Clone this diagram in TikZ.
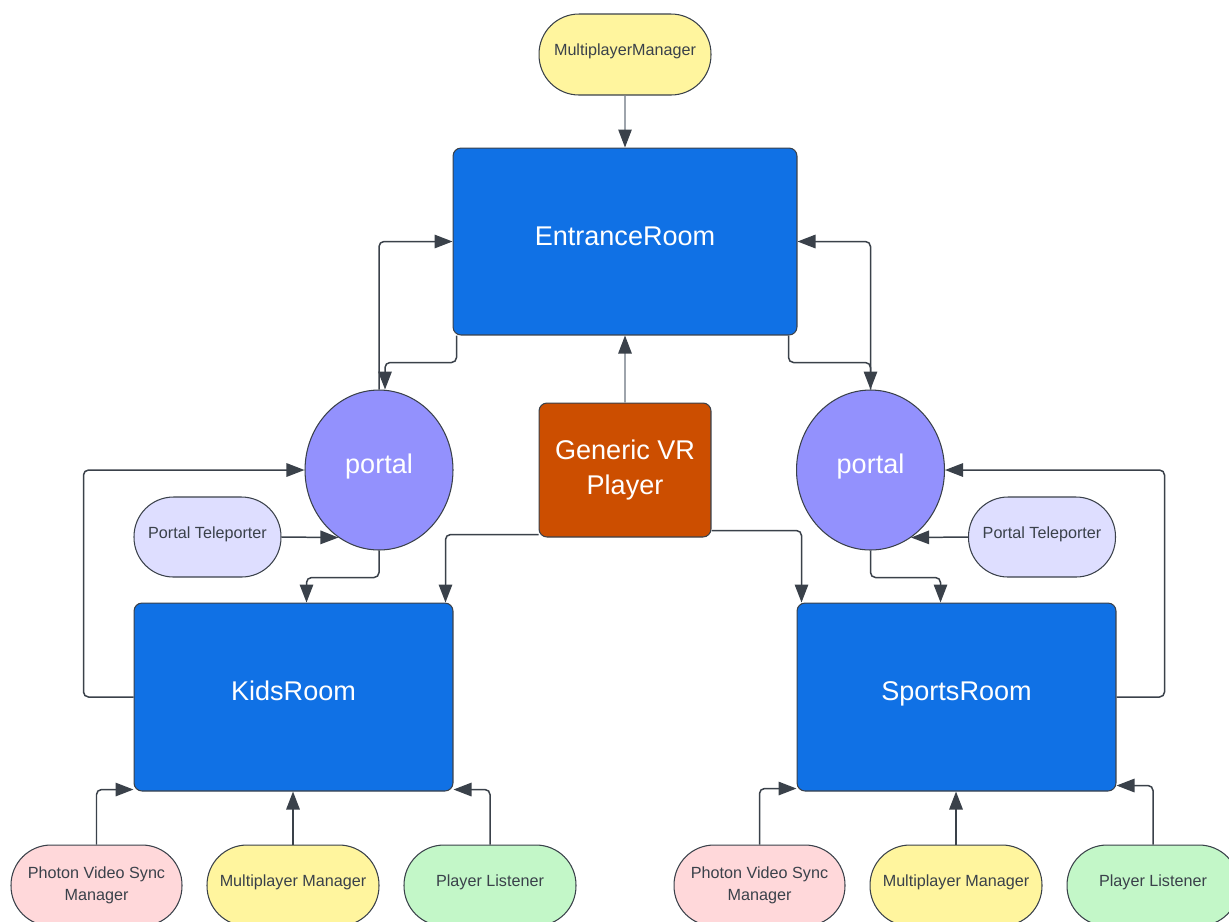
\documentclass[tikz,border=0pt]{standalone}
\usepackage{fontspec}
\setmainfont{Liberation Sans}
\usetikzlibrary{arrows.meta,shapes.geometric,calc}
\definecolor{lineC}{HTML}{3A414A}
\definecolor{lightline}{HTML}{9EA4AC}
\definecolor{roomblue}{HTML}{1071E5}
\definecolor{portalC}{HTML}{9391FD}
\definecolor{gvrC}{HTML}{CC4E00}
\definecolor{ptC}{HTML}{DEDEFF}
\definecolor{pinkC}{HTML}{FFD8DA}
\definecolor{yellowC}{HTML}{FFF59E}
\definecolor{greenC}{HTML}{C3F7C8}
\begin{document}
\begin{tikzpicture}[x=0.02cm,y=-0.02cm,
  big/.style={font=\fontsize{15.4}{20}\selectfont, text=white},
  small/.style={font=\fontsize{9.2}{12.5}\selectfont, text=lineC},
  liftbig/.style={text height=0.8em, text depth=0.38em},
  liftsmall/.style={text height=0.8em, text depth=0.64em},
  room/.style={rectangle, rounded corners=0.16cm, draw=lineC, line width=0.6pt, fill=roomblue, big, liftbig, inner sep=0, minimum width=6.38cm, minimum height=3.76cm},
  portal/.style={ellipse, draw=lineC, line width=0.6pt, fill=portalC, big, liftbig, inner sep=0, minimum width=2.96cm, minimum height=3.2cm},
  pill/.style={rectangle, rounded corners=0.8cm, draw=lineC, line width=0.6pt, small, align=center, inner sep=0, minimum width=3.44cm, minimum height=1.62cm},
  ptbox/.style={pill, fill=ptC, liftsmall, rounded corners=0.79cm, minimum width=2.94cm, minimum height=1.6cm},
  conn/.style={draw=lineC, line width=0.85pt, rounded corners=0.1cm, -{Triangle[length=0.36cm,width=0.27cm]}},
  lightconn/.style={draw=lightline, line width=0.6pt, -{Triangle[length=0.36cm,width=0.27cm,color=lineC]}}
]
\useasboundingbox (0,0) rectangle (1229,921);
\clip (0,0) rectangle (1229,921);

% nodes
\node[pill, fill=yellowC, liftsmall] (mm) at (625,54.5) {MultiplayerManager};
\node[room, minimum width=6.88cm, minimum height=3.74cm] (entrance) at (625,241.5) {EntranceRoom};
\node[portal] (portalL) at (379,470) {portal};
\node[portal] (portalR) at (870.5,470) {portal};
\node[rectangle, rounded corners=0.16cm, draw=lineC, line width=0.6pt, fill=gvrC, big, align=center, inner sep=0, minimum width=3.44cm, minimum height=2.68cm] (gvr) at (625,470) {Generic VR\\[-0.5pt]Player};
\node[ptbox] (ptL) at (207.5,537) {Portal Teleporter};
\node[ptbox] (ptR) at (1042,537) {Portal Teleporter};
\node[room] (kids) at (293.5,697) {KidsRoom};
\node[room] (sports) at (956.5,697) {SportsRoom};

\node[pill, fill=pinkC, minimum width=3.42cm] (photonL) at (96.5,885.5) {Photon Video Sync\\Manager};
\node[pill, fill=yellowC, liftsmall] (mmL) at (293,885.5) {Multiplayer Manager};
\node[pill, fill=greenC, liftsmall] (plL) at (490,885.5) {Player Listener};
\node[pill, fill=pinkC, minimum width=3.42cm] (photonR) at (759.5,885.5) {Photon Video Sync\\Manager};
\node[pill, fill=yellowC, liftsmall] (mmR) at (956,885.5) {Multiplayer Manager};
\node[pill, fill=greenC, liftsmall] (plR) at (1153,885.5) {Player Listener};

% connectors
\draw[lightconn] (mm) -- (entrance);
\draw[lightconn] (gvr) -- (entrance);

\draw[conn] (portalL.north) |- (entrance.west);
\draw[conn] ($(entrance.south west)+(4,0)$) -- ++(0,27) -| ($(portalL.north)+(6,0)$);
\draw[conn] (portalR.north) |- (entrance.east);
\draw[conn] ($(entrance.south east)+(-9,0)$) -- ++(0,27) -| (portalR.north);

\draw[conn] (kids.west) -- ++(-50,0) |- (portalL.west);
\draw[conn] (ptL.east) -- (portalL.239);
\draw[conn] (portalL.south) -- ++(0,27) -| ($(kids.north west)+(173,0)$);
\draw[conn] ($(gvr.south west)+(0,-3)$) -| ($(kids.north east)+(-8,0)$);
\draw[conn] ($(gvr.south east)+(0,-7)$) -| ($(sports.north west)+(5,0)$);
\draw[conn] (portalR.south) -- ++(0,27) -| ($(sports.north west)+(144,0)$);
\draw[conn] (ptR.west) -- (portalR.301);
\draw[conn] (sports.east) -- ++(48,0) |- (portalR.east);

\draw[conn] (photonL.north) |- ($(kids.south west)+(0,-2)$);
\draw[conn] (mmL.north) -- (mmL.north |- kids.south);
\draw[conn] (plL.north) |- ($(kids.south east)+(0,-2)$);
\draw[conn] (photonR.north) |- ($(sports.south west)+(0,-3)$);
\draw[conn] (mmR.north) -- (mmR.north |- sports.south);
\draw[conn] (plR.north) |- ($(sports.south east)+(0,-6)$);
\end{tikzpicture}
\end{document}
